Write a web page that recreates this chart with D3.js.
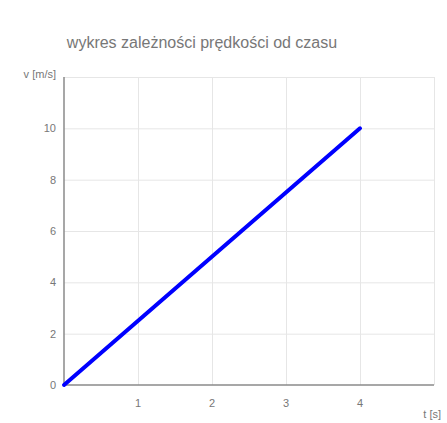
<!DOCTYPE html>
<html>
<head>
    <meta charset="utf-8">
    <script src="https://d3js.org/d3.v7.min.js"></script>
    <style>
        body { margin: 0; background: #fff; }
        text { font-family: "Liberation Sans", Arial, sans-serif; fill: #777; }
        .grid line { stroke: #e6e6e6; stroke-width: 1; }
        .grid path { display: none; }
    </style>
</head>
<body>
<svg width="447" height="423"></svg>
<script>
    // chart data
    var time = [0, 4];
    var speed = [0, 10];
    var xTicks = [1, 2, 3, 4];
    var yTicks = [0, 2, 4, 6, 8, 10];
    var title = "wykres zależności prędkości od czasu";

    var svg = d3.select("svg");

    var x = d3.scaleLinear().domain([0, 5]).range([64, 434]);
    var y = d3.scaleLinear().domain([0, 12]).range([385, 77]);

    // grid
    svg.append("g")
        .attr("class", "grid")
        .attr("transform", "translate(0,385)")
        .call(d3.axisBottom(x).tickValues([1, 2, 3, 4, 5]).tickSize(-(385 - 77)).tickFormat(""));

    svg.append("g")
        .attr("class", "grid")
        .attr("transform", "translate(64,0)")
        .call(d3.axisLeft(y).tickValues([2, 4, 6, 8, 10, 12]).tickSize(-(434 - 64)).tickFormat(""));

    // axis lines
    svg.append("line")
        .attr("x1", x(0)).attr("x2", x(0))
        .attr("y1", y(12)).attr("y2", y(0))
        .attr("stroke", "#8a8a8a").attr("stroke-width", 1.5);
    svg.append("line")
        .attr("x1", x(0)).attr("x2", x(5))
        .attr("y1", y(0)).attr("y2", y(0))
        .attr("stroke", "#8a8a8a").attr("stroke-width", 1.5);

    // tick labels
    svg.selectAll(".xl").data(xTicks).enter().append("text")
        .attr("x", function (d) { return x(d); })
        .attr("y", 407)
        .attr("text-anchor", "middle")
        .style("font-size", "11px")
        .text(function (d) { return d; });

    svg.selectAll(".yl").data(yTicks).enter().append("text")
        .attr("x", 56)
        .attr("y", function (d) { return y(d) + 4; })
        .attr("text-anchor", "end")
        .style("font-size", "11px")
        .text(function (d) { return d; });

    // axis titles
    svg.append("text").attr("x", 56).attr("y", 78).attr("text-anchor", "end")
        .style("font-size", "11px").text("v [m/s]");
    svg.append("text").attr("x", 441).attr("y", 418).attr("text-anchor", "end")
        .style("font-size", "11px").text("t [s]");

    // chart title
    svg.append("text").attr("x", 202).attr("y", 48).attr("text-anchor", "middle")
        .style("font-size", "16px").text(title);

    // the line
    var line = d3.line()
        .x(function (d, i) { return x(time[i]); })
        .y(function (d) { return y(d); });

    svg.append("path")
        .datum(speed)
        .attr("fill", "none")
        .attr("stroke", "#0000ff")
        .attr("stroke-width", 4)
        .attr("stroke-linecap", "round")
        .attr("d", line);
</script>
</body>
</html>
